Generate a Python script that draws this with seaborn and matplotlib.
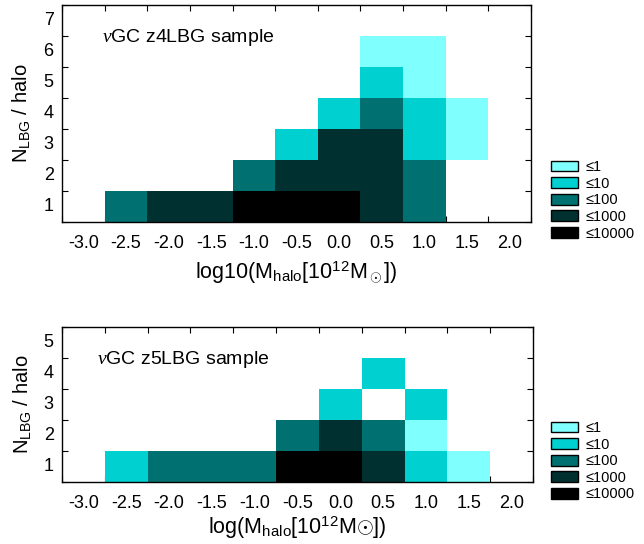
import matplotlib
matplotlib.use('Agg')
import matplotlib.pyplot as plt
import numpy as np
import pandas as pd
import seaborn as sns
from matplotlib.colors import ListedColormap, BoundaryNorm
from matplotlib.patches import Patch

# x categories (log halo mass bins)
mass_bins = ['-3.0', '-2.5', '-2.0', '-1.5', '-1.0', '-0.5', '0.0', '0.5', '1.0', '1.5', '2.0']
count_labels = ['≤1', '≤10', '≤100', '≤1000', '≤10000']
count_colors = ['#80ffff', '#00d0d0', '#007070', '#003030', '#000000']

# count class per cell: 0 = empty, 1 = <=1, 2 = <=10, 3 = <=100, 4 = <=1000, 5 = <=10000
# z4LBG, one list per N_LBG/halo value
z4_n1 = [0, 3, 4, 4, 5, 5, 5, 4, 3, 0, 0]
z4_n2 = [0, 0, 0, 0, 3, 4, 4, 4, 3, 0, 0]
z4_n3 = [0, 0, 0, 0, 0, 2, 4, 4, 2, 1, 0]
z4_n4 = [0, 0, 0, 0, 0, 0, 2, 3, 2, 1, 0]
z4_n5 = [0, 0, 0, 0, 0, 0, 0, 2, 1, 0, 0]
z4_n6 = [0, 0, 0, 0, 0, 0, 0, 1, 1, 0, 0]
z4_n7 = [0, 0, 0, 0, 0, 0, 0, 0, 0, 0, 0]

# z5LBG
z5_n1 = [0, 2, 3, 3, 3, 5, 5, 4, 2, 1, 0]
z5_n2 = [0, 0, 0, 0, 0, 3, 4, 3, 1, 0, 0]
z5_n3 = [0, 0, 0, 0, 0, 0, 2, 0, 2, 0, 0]
z5_n4 = [0, 0, 0, 0, 0, 0, 0, 2, 0, 0, 0]
z5_n5 = [0, 0, 0, 0, 0, 0, 0, 0, 0, 0, 0]

sns.set_style('white')
plt.rcParams['font.family'] = ['Liberation Sans', 'DejaVu Sans']
plt.rcParams['mathtext.fontset'] = 'custom'
plt.rcParams['mathtext.rm'] = 'Liberation Sans'
plt.rcParams['mathtext.it'] = 'Liberation Serif:italic'
for key in ['text.color', 'axes.labelcolor', 'xtick.color', 'ytick.color']:
    plt.rcParams[key] = 'black'

cmap = ListedColormap(count_colors)
norm = BoundaryNorm([0.5, 1.5, 2.5, 3.5, 4.5, 5.5], cmap.N)


def draw_panel(ax, rows, note, xlabel, note_xy, xpad):
    n = len(rows)
    df = pd.DataFrame(rows[::-1], index=list(range(n, 0, -1)), columns=mass_bins)
    sns.heatmap(df, ax=ax, cmap=cmap, norm=norm, mask=(df == 0), cbar=False)
    ax.set_xticks(np.arange(len(mass_bins)) + 0.5)
    ax.set_xticklabels(mass_bins, rotation=0)
    ax.set_yticks(np.arange(n) + 0.5)
    ax.set_yticklabels(df.index, rotation=0)
    ax.set_xticks(np.arange(len(mass_bins) + 1), minor=True)
    ax.set_yticks(np.arange(n + 1), minor=True)
    ax.tick_params(which='major', length=0, labelsize=13)
    ax.tick_params(axis='x', which='major', pad=9)
    ax.tick_params(axis='y', which='major', pad=6)
    ax.tick_params(which='minor', direction='in', length=4, width=0.8, color='black',
                   top=True, right=True, bottom=True, left=True)
    for s in ax.spines.values():
        s.set_visible(True)
        s.set_color('black')
        s.set_linewidth(1)
    ax.set_xlabel(xlabel, fontsize=15.5, labelpad=xpad)
    ax.set_ylabel(r'N$_\mathregular{LBG}$ / halo', fontsize=14.5, labelpad=8)
    ax.text(note_xy[0], note_xy[1], note, transform=ax.transAxes, fontsize=14, va='center')


fig = plt.figure(figsize=(6.44, 5.44), dpi=100)
ax1 = fig.add_axes([62 / 644, 1 - 222 / 544, 469 / 644, 217 / 544])
ax2 = fig.add_axes([62 / 644, 1 - 482 / 544, 471 / 644, 155 / 544])

draw_panel(ax1, [z4_n1, z4_n2, z4_n3, z4_n4, z4_n5, z4_n6, z4_n7],
           r'$\nu$GC z4LBG sample',
           r'log10(M$_\mathregular{halo}$[10$^\mathregular{12}$M$_\odot$])', (0.085, 0.848), 6)
draw_panel(ax2, [z5_n1, z5_n2, z5_n3, z5_n4, z5_n5],
           r'$\nu$GC z5LBG sample',
           r'log(M$_\mathregular{halo}$[10$^\mathregular{12}$M$\odot$])', (0.074, 0.79), 2)

handles = [Patch(facecolor=c, edgecolor='black', linewidth=1) for c in count_colors]
for top in (160, 421):
    fig.legend(handles, count_labels, loc='upper left', bbox_to_anchor=(551 / 644, 1 - top / 544),
               frameon=False, fontsize=10.5, handlelength=1.85, handleheight=0.75,
               handletextpad=0.5, labelspacing=0.18, borderpad=0, borderaxespad=0)

fig.savefig('out.png', dpi=100)
